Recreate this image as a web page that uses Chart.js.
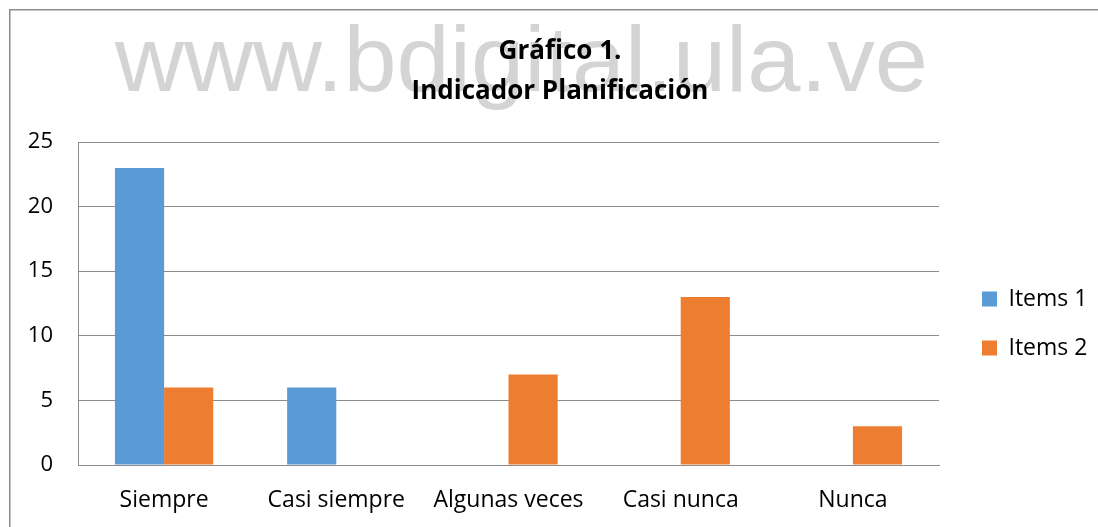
<!DOCTYPE html>
<html>
<head>
<meta charset="utf-8">
<script src="https://cdn.jsdelivr.net/npm/chart.js@4.4.1/dist/chart.umd.min.js"></script>
<style>
  html, body { margin: 0; padding: 0; background: #fff; }
  #wrap { width: 1098px; height: 527px; position: relative; }
</style>
</head>
<body>
<div id="wrap"><canvas id="c"></canvas></div>
<script>
const categories = ['Siempre', 'Casi siempre', 'Algunas veces', 'Casi nunca', 'Nunca'];
const seriesNames = ['Items 1', 'Items 2'];
const items1 = [23, 6, 0, 0, 0];
const items2 = [6, 0, 7, 13, 3];
const yTicks = { min: 0, max: 25, step: 5 };
const titleLines = ['Gráfico 1.', 'Indicador Planificación'];
const watermarkText = 'www.bdigital.ula.ve';

const FONT = '"Open Sans", Lato, sans-serif';
const LEGEND_SIZE = 23;
const LEGEND_PAD = 26;
const BOX = 15;

const mctx = document.createElement('canvas').getContext('2d');
mctx.font = LEGEND_SIZE + 'px ' + FONT;
const legendTextW = Math.max(...seriesNames.map(s => mctx.measureText(s).width));
const legendW = LEGEND_PAD + BOX + LEGEND_SIZE / 2 + legendTextW + 10;
const legendLeft = 956;
const padR = Math.max(0, 1098 - legendLeft - legendW);
const titleCenter = 560;
const padL = 2 * titleCenter - 1098 + padR;
const plotLeft = 78, plotRight = 939;

const backdrop = {
  id: 'backdrop',
  beforeDraw(chart) {
    const ctx = chart.ctx;
    ctx.save();
    ctx.strokeStyle = '#8c8c8c';
    ctx.lineWidth = 1.5;
    ctx.beginPath();
    ctx.moveTo(1098, 9.75);
    ctx.lineTo(9.75, 9.75);
    ctx.lineTo(9.75, 527);
    ctx.stroke();
    ctx.font = '92px "Liberation Sans", Arial, sans-serif';
    ctx.fillStyle = '#d4d4d4';
    ctx.textBaseline = 'alphabetic';
    const w = ctx.measureText(watermarkText).width;
    ctx.translate(115, 91);
    ctx.scale(813 / w, 1);
    ctx.fillText(watermarkText, 0, 0);
    ctx.restore();
  }
};

new Chart(document.getElementById('c'), {
  type: 'bar',
  data: {
    labels: categories,
    datasets: [
      { label: seriesNames[0], data: items1, backgroundColor: '#5B9BD5', borderWidth: 0 },
      { label: seriesNames[1], data: items2, backgroundColor: '#ED7D31', borderWidth: 0 }
    ]
  },
  options: {
    responsive: true,
    maintainAspectRatio: false,
    animation: false,
    events: [],
    layout: { padding: { left: padL, right: padR, top: 0, bottom: 0 } },
    datasets: { bar: { barPercentage: 1.0, categoryPercentage: 0.571 } },
    plugins: {
      title: {
        display: true,
        text: titleLines,
        color: '#000',
        font: { family: FONT, size: 26, weight: 'bold', lineHeight: 1.52 },
        padding: { top: 32, bottom: 31 }
      },
      legend: {
        display: true,
        position: 'right',
        title: { display: true, text: '', padding: { top: 0, bottom: 108 }, font: { size: 10, lineHeight: 1.2 } },
        labels: {
          color: '#000',
          font: { family: FONT, size: LEGEND_SIZE },
          boxWidth: BOX,
          boxHeight: BOX,
          padding: LEGEND_PAD
        }
      },
      tooltip: { enabled: false }
    },
    scales: {
      x: {
        grid: { display: false, drawTicks: false },
        border: { display: true, color: '#8c8c8c', width: 1 },
        ticks: { color: '#000', font: { family: FONT, size: 23 }, padding: 22, maxRotation: 0, autoSkip: false },
        afterFit(s) { s.height = 62; }
      },
      y: {
        min: yTicks.min,
        max: yTicks.max,
        ticks: { stepSize: yTicks.step, color: '#000', font: { family: FONT, size: 22 }, padding: 25 },
        grid: { color: '#8c8c8c', lineWidth: 1, drawTicks: false },
        border: { display: true, color: '#8c8c8c', width: 1 },
        afterFit(s) { s.width = plotLeft - padL; }
      },
      gap: {
        type: 'linear',
        position: 'right',
        display: true,
        grid: { display: false, drawTicks: false },
        border: { display: false },
        ticks: { display: false },
        afterFit(s) { s.width = legendLeft - plotRight; }
      }
    }
  },
  plugins: [backdrop]
});
</script>
</body>
</html>
